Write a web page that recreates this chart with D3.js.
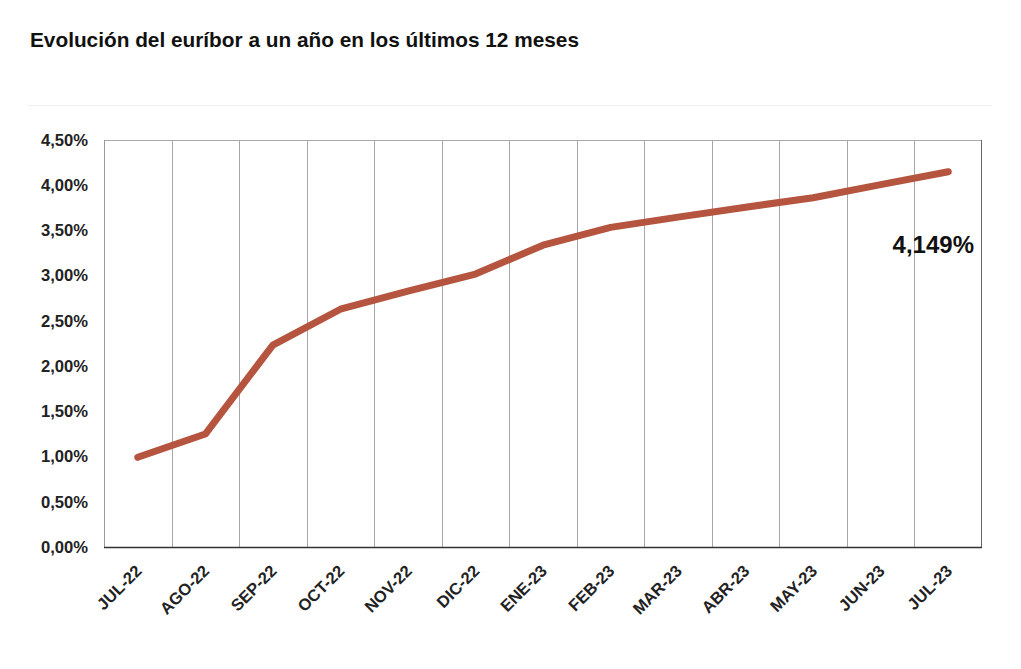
<!DOCTYPE html>
<html>
<head>
<meta charset="utf-8">
<script src="https://cdn.jsdelivr.net/npm/d3@7"></script>
<style>
  html, body { margin: 0; padding: 0; background: #fff; }
  svg { display: block; font-family: "Liberation Sans", Arial, Helvetica, sans-serif; }
</style>
</head>
<body>
<svg id="chart" width="1021" height="669"></svg>
<script>
const title = "Evolución del euríbor a un año en los últimos 12 meses";
const months = ["JUL-22","AGO-22","SEP-22","OCT-22","NOV-22","DIC-22","ENE-23","FEB-23","MAR-23","ABR-23","MAY-23","JUN-23","JUL-23"];
const euribor = [0.992, 1.249, 2.233, 2.629, 2.828, 3.018, 3.337, 3.534, 3.647, 3.757, 3.862, 4.007, 4.149];
const yTicks = [0, 0.5, 1, 1.5, 2, 2.5, 3, 3.5, 4, 4.5];
const lastLabel = "4,149%";

const svg = d3.select("#chart");
const m = { left: 104, right: 982, top: 140, bottom: 547 };

svg.append("text")
  .attr("x", 30).attr("y", 47)
  .attr("font-size", 20.8).attr("font-weight", "bold").attr("fill", "#111")
  .text(title);

svg.append("line")
  .attr("x1", 28).attr("x2", 992).attr("y1", 105.5).attr("y2", 105.5)
  .attr("stroke", "#f0f0f0").attr("stroke-width", 1);

const x = d3.scaleBand().domain(months).range([m.left, m.right]).padding(0);
const y = d3.scaleLinear().domain([0, 4.5]).range([m.bottom, m.top]);

// vertical gridlines at category boundaries
svg.append("g").selectAll("line")
  .data(months.slice(1))
  .join("line")
  .attr("x1", d => Math.round(x(d)) + 0.5).attr("x2", d => Math.round(x(d)) + 0.5)
  .attr("y1", m.top).attr("y2", m.bottom)
  .attr("stroke", "#a8a8a8").attr("stroke-width", 1);

// frame
svg.append("line").attr("x1", m.left).attr("x2", m.right).attr("y1", m.top + 0.5).attr("y2", m.top + 0.5)
  .attr("stroke", "#a8a8a8");
svg.append("line").attr("x1", m.left + 0.5).attr("x2", m.left + 0.5).attr("y1", m.top).attr("y2", m.bottom)
  .attr("stroke", "#999");
svg.append("line").attr("x1", m.right - 0.5).attr("x2", m.right - 0.5).attr("y1", m.top).attr("y2", m.bottom)
  .attr("stroke", "#666");
svg.append("line").attr("x1", m.left).attr("x2", m.right).attr("y1", m.bottom + 0.5).attr("y2", m.bottom + 0.5)
  .attr("stroke", "#333").attr("stroke-width", 1.3);

// y axis labels
const fmt = v => v.toFixed(2).replace(".", ",") + "%";
const yAxis = d3.axisLeft(y).tickValues(yTicks).tickFormat(fmt).tickSize(0).tickPadding(16);
const yg = svg.append("g").attr("transform", `translate(${m.left},0)`).call(yAxis);
yg.select(".domain").remove();
yg.selectAll("text").attr("font-size", 16.6).attr("font-weight", "bold").attr("fill", "#222")
  .attr("font-family", "'Liberation Sans', Arial, sans-serif");

// x axis labels
const xAxis = d3.axisBottom(x).tickSize(0).tickPadding(0);
const xg = svg.append("g").attr("transform", `translate(0,${m.bottom})`).call(xAxis);
xg.select(".domain").remove();
xg.selectAll(".tick text")
  .attr("font-size", 16.5).attr("font-weight", "bold").attr("fill", "#222")
  .attr("font-family", "'Liberation Sans', Arial, sans-serif")
  .attr("text-anchor", "end")
  .attr("dy", 0).attr("y", 0)
  .attr("transform", "translate(5,25) rotate(-45)");

// line
const line = d3.line()
  .x((d, i) => x(months[i]) + x.bandwidth() / 2)
  .y(d => y(d));
svg.append("path")
  .datum(euribor)
  .attr("d", line)
  .attr("fill", "none")
  .attr("stroke", "#b5553f")
  .attr("stroke-width", 7)
  .attr("stroke-linecap", "round")
  .attr("stroke-linejoin", "round");

// last value label
svg.append("text")
  .attr("x", 974).attr("y", 253)
  .attr("text-anchor", "end")
  .attr("font-size", 24).attr("font-weight", "bold").attr("fill", "#111")
  .text(lastLabel);
</script>
</body>
</html>
